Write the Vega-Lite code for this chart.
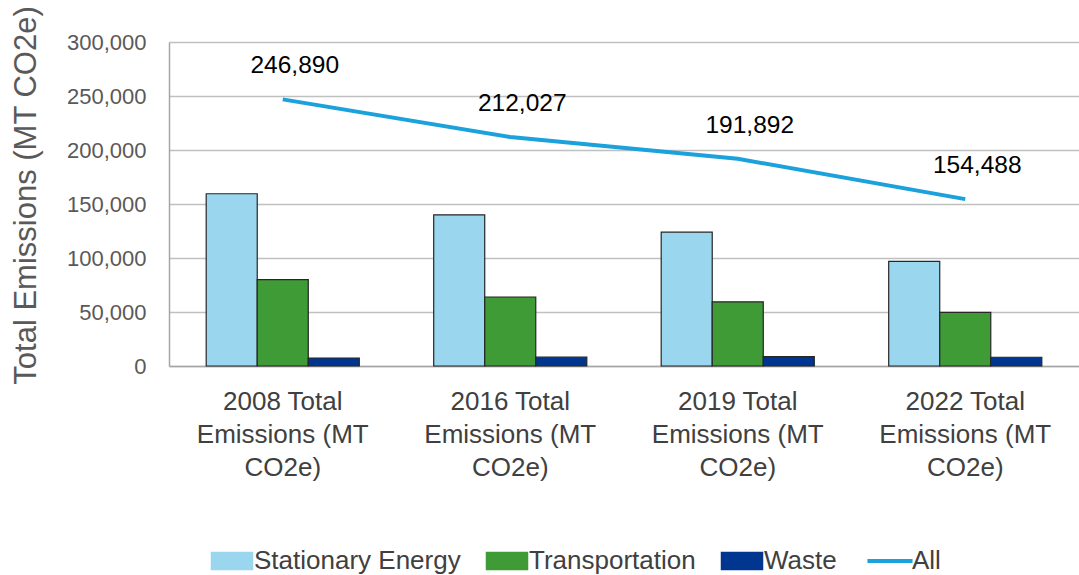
{
  "$schema": "https://vega.github.io/schema/vega-lite/v6.json",
  "autosize": "none",
  "width": 910,
  "height": 324,
  "padding": {"left": 169, "top": 42, "right": 0, "bottom": 209},
  "background": "white",
  "config": {
    "view": {"stroke": null},
    "font": "Liberation Sans, sans-serif"
  },
  "data": {
    "values": [
      {"year": "2008 Total Emissions (MT CO2e)", "series": "Stationary Energy", "value": 159500},
      {"year": "2008 Total Emissions (MT CO2e)", "series": "Transportation", "value": 80000},
      {"year": "2008 Total Emissions (MT CO2e)", "series": "Waste", "value": 7390},
      {"year": "2008 Total Emissions (MT CO2e)", "series": "All", "value": 246890},
      {"year": "2016 Total Emissions (MT CO2e)", "series": "Stationary Energy", "value": 140000},
      {"year": "2016 Total Emissions (MT CO2e)", "series": "Transportation", "value": 63900},
      {"year": "2016 Total Emissions (MT CO2e)", "series": "Waste", "value": 8127},
      {"year": "2016 Total Emissions (MT CO2e)", "series": "All", "value": 212027},
      {"year": "2019 Total Emissions (MT CO2e)", "series": "Stationary Energy", "value": 123900},
      {"year": "2019 Total Emissions (MT CO2e)", "series": "Transportation", "value": 59400},
      {"year": "2019 Total Emissions (MT CO2e)", "series": "Waste", "value": 8592},
      {"year": "2019 Total Emissions (MT CO2e)", "series": "All", "value": 191892},
      {"year": "2022 Total Emissions (MT CO2e)", "series": "Stationary Energy", "value": 96800},
      {"year": "2022 Total Emissions (MT CO2e)", "series": "Transportation", "value": 49600},
      {"year": "2022 Total Emissions (MT CO2e)", "series": "Waste", "value": 8088},
      {"year": "2022 Total Emissions (MT CO2e)", "series": "All", "value": 154488}
    ]
  },
  "encoding": {
    "x": {
      "field": "year",
      "type": "nominal",
      "sort": null,
      "scale": {"paddingInner": 0.327, "paddingOuter": 0.1635},
      "axis": {
        "title": null,
        "ticks": false,
        "domainColor": "#A6A6A6",
        "domainWidth": 1.5,
        "labelAngle": 0,
        "labelFontSize": 26,
        "labelColor": "#404040",
        "labelLineHeight": 33,
        "labelPadding": 22,
        "labelBaseline": "top",
        "labelExpr": "[slice(datum.label,0,10), slice(datum.label,11,24), slice(datum.label,25)]"
      }
    },
    "y": {
      "field": "value",
      "type": "quantitative",
      "scale": {"domain": [0, 300000], "nice": false},
      "axis": {
        "title": "Total Emissions (MT CO2e)",
        "titleFont": "Liberation Sans",
        "titleFontSize": 31,
        "titleFontWeight": "normal",
        "titleColor": "#595959",
        "titleAngle": -90,
        "titleX": -134,
        "titleY": 153,
        "titleAlign": "center",
        "titleBaseline": "alphabetic",
        "values": [0, 50000, 100000, 150000, 200000, 250000, 300000],
        "labelExpr": "format(datum.value, ',')",
        "labelFont": "Liberation Sans",
        "labelFontSize": 22,
        "labelColor": "#595959",
        "labelPadding": 23,
        "ticks": false,
        "domainColor": "#A6A6A6",
        "domainWidth": 1.5,
        "gridColor": "#C0C0C0",
        "gridWidth": 1.5
      }
    }
  },
  "layer": [
    {
      "transform": [{"filter": "datum.series !== 'All'"}],
      "mark": {"type": "bar", "stroke": "#262626", "strokeWidth": 1.2},
      "encoding": {
        "xOffset": {
          "field": "series",
          "type": "nominal",
          "sort": ["Stationary Energy", "Transportation", "Waste"],
          "scale": {"paddingInner": 0, "paddingOuter": 0}
        },
        "color": {
          "field": "series",
          "type": "nominal",
          "scale": {
            "domain": ["Stationary Energy", "Transportation", "Waste", "All"],
            "range": ["#9BD6EF", "#3F9B35", "#00368F", "#1BA1DB"]
          },
          "legend": {
            "title": null,
            "orient": "none",
            "legendX": 50,
            "legendY": 506,
            "direction": "horizontal",
            "columns": 4,
            "symbolSize": 1681,
            "symbolStrokeColor": "#262626",
            "symbolStrokeWidth": 1.5,
            "labelFontSize": 26,
            "labelColor": "#404040",
            "labelOffset": 9,
            "columnPadding": 22,
            "labelLimit": 400,
            "encoding": {
              "symbols": {
                "shape": {"value": {"signal": "datum.value === 'All' ? 'M-1.1,0H1.1' : 'M-1,-0.41H1V0.41H-1Z'"}},
                "size": {"value": 1681},
                "stroke": {"value": {"signal": "datum.value === 'All' ? '#1BA1DB' : '#262626'"}},
                "strokeWidth": {"value": {"signal": "datum.value === 'All' ? 4 : 1.5"}},
                "strokeOpacity": {"value": 1},
                "fill": {"value": {"signal": "datum.value === 'All' ? 'transparent' : scale('color', datum.value)"}},
                "opacity": {"value": 1},
                "fillOpacity": {"value": 1}
              }
            }
          }
        }
      }
    },
    {
      "transform": [{"filter": "datum.series === 'All'"}],
      "mark": {"type": "line", "strokeWidth": 4},
      "encoding": {
        "color": {"field": "series", "type": "nominal", "legend": null}
      }
    },
    {
      "transform": [{"filter": "datum.series === 'All'"}],
      "mark": {"type": "text", "dy": -33, "dx": 12, "fontSize": 24.5, "color": "#000000"},
      "encoding": {
        "text": {"field": "value", "type": "quantitative", "format": ","}
      }
    }
  ]
}
